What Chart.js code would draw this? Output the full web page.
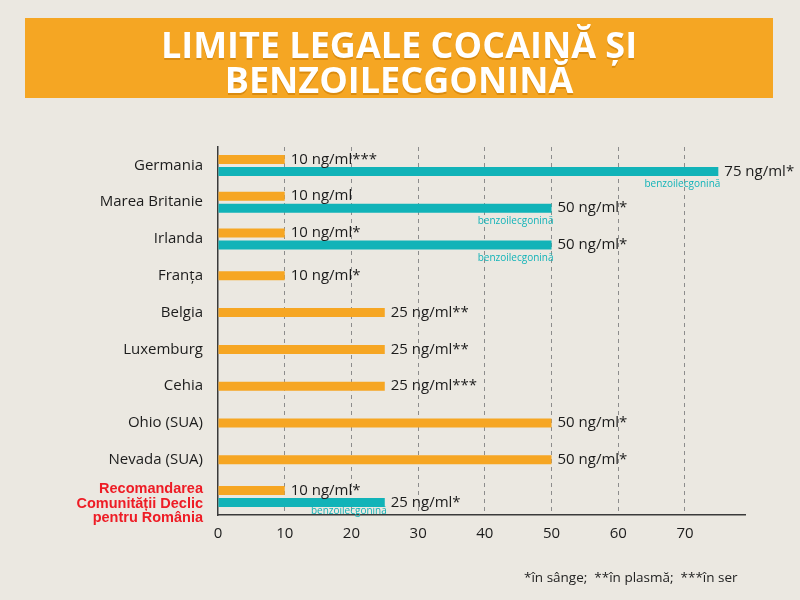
<!DOCTYPE html>
<html lang="ro">
<head>
<meta charset="UTF-8">
<title>Limite legale cocaină și benzoilecgonină</title>
<script src="https://cdn.jsdelivr.net/npm/chart.js"></script>
<style>
    body {
        margin: 0;
        background: #ebe8e1;
        font-family: 'Open Sans', sans-serif;
    }
    .page {
        position: relative;
        width: 800px;
        height: 600px;
        overflow: hidden;
    }
    .banner {
        position: absolute;
        left: 25px;
        top: 18px;
        width: 748px;
        height: 80px;
        box-sizing: border-box;
        padding-top: 9px;
        background: #f5a623;
        color: #fff;
        text-align: center;
        font-weight: 700;
        font-size: 36px;
        line-height: 35px;
        text-shadow: 0 2px 0 #d98b10;
    }
    canvas {
        position: absolute;
        left: 0;
        top: 0;
    }
    .note {
        position: absolute;
        left: 524px;
        top: 568px;
        font-size: 13.5px;
        color: #222;
        white-space: pre;
    }
</style>
</head>
<body>
<div class="page">
    <canvas id="limitsChart" width="800" height="600"></canvas>
    <div class="banner">LIMITE LEGALE COCAINĂ ȘI<br>BENZOILECGONINĂ</div>
    <div class="note">*în sânge;  **în plasmă;  ***în ser</div>
</div>

<script>
    // the empty first line pushes the red label down, as in the original
    const categories = [
        'Germania', 'Marea Britanie', 'Irlanda', 'Franța', 'Belgia',
        'Luxemburg', 'Cehia', 'Ohio (SUA)', 'Nevada (SUA)',
        ['', 'Recomandarea', 'Comunității Declic', 'pentru România']
    ];
    const cocaineValues = [10, 10, 10, 10, 25, 25, 25, 50, 50, 10];
    const benzoValues = [75, 50, 50, null, null, null, null, null, null, 25];
    const cocaineLabels = [
        '10 ng/ml***', '10 ng/ml', '10 ng/ml*', '10 ng/ml*', '25 ng/ml**',
        '25 ng/ml**', '25 ng/ml***', '50 ng/ml*', '50 ng/ml*', '10 ng/ml*'
    ];
    const benzoLabels = ['75 ng/ml*', '50 ng/ml*', '50 ng/ml*', null, null, null, null, null, null, '25 ng/ml*'];
    const benzoNote = 'benzoilecgonină';
    const xMax = 79;
    const xStep = 10;
    const xLastTick = 70;

    const orange = '#f6a623';
    const teal = '#11b3b8';

    // value labels to the right of each bar + the small note under the teal bars
    const barLabels = {
        id: 'barLabels',
        afterDatasetsDraw(chart) {
            const ctx = chart.ctx;
            const allLabels = [cocaineLabels, benzoLabels];
            ctx.save();
            ctx.textBaseline = 'middle';
            chart.data.datasets.forEach((ds, i) => {
                const meta = chart.getDatasetMeta(i);
                meta.data.forEach((bar, j) => {
                    if (ds.data[j] == null) return;
                    ctx.font = '15px "Open Sans"';
                    ctx.fillStyle = '#1c1c1c';
                    ctx.textAlign = 'left';
                    ctx.fillText(allLabels[i][j], bar.x + 6, bar.y);
                    if (i === 1) {
                        ctx.font = '10px "Open Sans"';
                        ctx.fillStyle = teal;
                        ctx.textAlign = 'right';
                        const y = Math.min(bar.y + 13, chart.chartArea.bottom - 4);
                        ctx.fillText(benzoNote, bar.x + 2, y);
                    }
                });
            });
            ctx.restore();
        }
    };

    const lastIndex = categories.length - 1;

    new Chart(document.getElementById('limitsChart'), {
        type: 'bar',
        data: {
            labels: categories,
            datasets: [{
                label: 'cocaină',
                data: cocaineValues,
                backgroundColor: orange
            }, {
                label: 'benzoilecgonină',
                data: benzoValues,
                backgroundColor: teal
            }]
        },
        options: {
            indexAxis: 'y',
            responsive: false,
            animation: false,
            skipNull: true,
            categoryPercentage: 0.652,
            barPercentage: 1,
            maxBarThickness: 9,
            layout: {
                padding: { left: 0, right: 55, top: 147, bottom: 55 }
            },
            plugins: {
                legend: { display: false },
                tooltip: { enabled: false }
            },
            scales: {
                x: {
                    min: 0,
                    max: xMax,
                    afterFit: (scale) => { scale.height = 30; },
                    grid: {
                        drawTicks: false,
                        lineWidth: 1,
                        color: (c) => (c.tick && c.tick.value > 0 && c.tick.value <= xLastTick) ? '#8c8c8c' : 'rgba(0,0,0,0)'
                    },
                    border: { display: true, color: '#3a3a3a', width: 1.5, dash: [4, 4] },
                    ticks: {
                        stepSize: xStep,
                        includeBounds: false,
                        padding: 10,
                        color: '#1c1c1c',
                        font: { family: 'Open Sans', size: 15 }
                    }
                },
                y: {
                    afterFit: (scale) => { scale.width = 218; },
                    grid: { display: false, drawTicks: false },
                    border: { display: true, color: '#3a3a3a', width: 1.5 },
                    ticks: {
                        autoSkip: false,
                        padding: 15,
                        color: (c) => c.index === lastIndex ? '#ee1c25' : '#1c1c1c',
                        font: (c) => c.index === lastIndex
                            ? { family: 'Liberation Sans', size: 14.5, weight: 'bold', lineHeight: '14.5px' }
                            : { family: 'Open Sans', size: 15 }
                    }
                }
            }
        },
        plugins: [barLabels]
    });
</script>
</body>
</html>
